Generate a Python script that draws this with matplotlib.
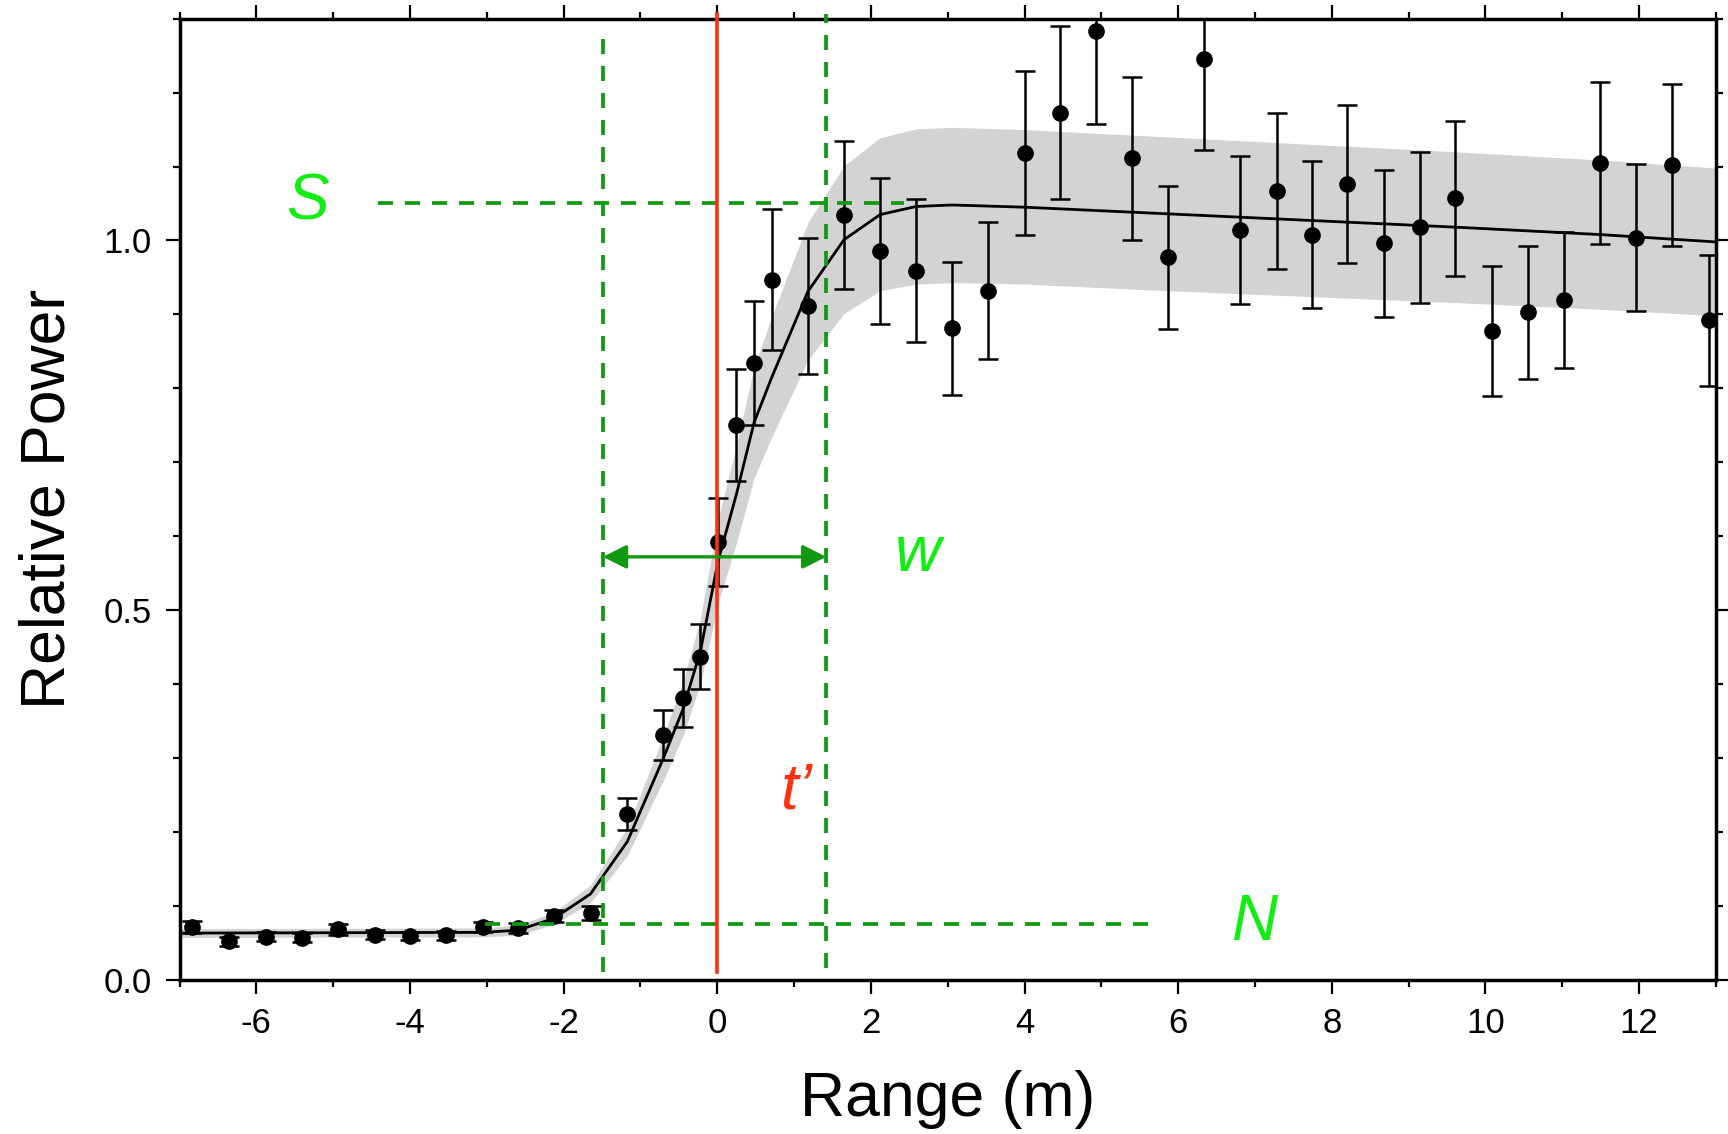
import matplotlib
matplotlib.use("Agg")
import matplotlib.pyplot as plt
from matplotlib.ticker import MultipleLocator

plt.rcParams['font.family'] = ['Liberation Sans', 'DejaVu Sans']
plt.rcParams['axes.unicode_minus'] = False

# measured points (range in m, relative power, 1-sigma error)
range_m = [-6.84, -6.35, -5.875, -5.41, -4.94, -4.46, -4.0, -3.525, -3.05, -2.59,
           -2.125, -1.65, -1.17, -0.70, -0.45, -0.22, 0.01, 0.25, 0.48, 0.71,
           1.18, 1.65, 2.12, 2.59, 3.06, 3.53, 4.00, 4.46, 4.93, 5.40,
           5.87, 6.34, 6.81, 7.28, 7.74, 8.20, 8.68, 9.15, 9.61, 10.08,
           10.55, 11.02, 11.49, 11.96, 12.43, 12.91]
power = [0.071, 0.052, 0.058, 0.057, 0.068, 0.061, 0.059, 0.060, 0.071, 0.070,
         0.086, 0.090, 0.224, 0.331, 0.381, 0.437, 0.592, 0.750, 0.834, 0.947,
         0.911, 1.034, 0.986, 0.959, 0.881, 0.932, 1.118, 1.173, 1.284, 1.111,
         0.977, 1.246, 1.014, 1.067, 1.008, 1.076, 0.996, 1.018, 1.057, 0.878,
         0.903, 0.919, 1.105, 1.004, 1.102, 0.892]
power_err = [0.008, 0.006, 0.006, 0.006, 0.007, 0.006, 0.006, 0.006, 0.007, 0.007,
             0.008, 0.009, 0.022, 0.034, 0.039, 0.044, 0.060, 0.076, 0.084, 0.095,
             0.092, 0.100, 0.099, 0.097, 0.090, 0.093, 0.111, 0.117, 0.127, 0.110,
             0.097, 0.123, 0.100, 0.106, 0.100, 0.107, 0.099, 0.102, 0.105, 0.088,
             0.090, 0.092, 0.110, 0.100, 0.110, 0.089]

# fitted model and its uncertainty band
model_range = [-7.0, -3.05, -2.59, -2.125, -1.65, -1.17, -0.70, -0.45, -0.22, 0.01,
               0.25, 0.48, 0.71, 1.18, 1.65, 2.12, 2.59, 3.06, 4.0, 5.87,
               7.74, 9.61, 11.49, 13.0]
model_power = [0.063, 0.064, 0.067, 0.083, 0.116, 0.187, 0.300, 0.365, 0.444, 0.566,
               0.657, 0.754, 0.815, 0.931, 1.001, 1.035, 1.046, 1.048, 1.045, 1.036,
               1.027, 1.018, 1.008, 0.998]
band_high = [0.069, 0.070, 0.074, 0.091, 0.128, 0.206, 0.330, 0.402, 0.488, 0.623,
             0.723, 0.829, 0.897, 1.024, 1.101, 1.139, 1.151, 1.153, 1.150, 1.140,
             1.130, 1.120, 1.109, 1.098]
band_low = [0.057, 0.058, 0.060, 0.075, 0.104, 0.168, 0.270, 0.329, 0.400, 0.509,
            0.591, 0.679, 0.734, 0.838, 0.901, 0.932, 0.941, 0.943, 0.941, 0.932,
            0.924, 0.916, 0.907, 0.898]

# annotation values
t_prime = 0.0
w_left, w_right = -1.49, 1.42
s_level = 1.051
n_level = 0.0752
w_level = 0.572

dash_green = '#119911'
text_green = '#11ee11'
red = '#ff3010'

fig = plt.figure(figsize=(17.28, 11.34), dpi=100)
ax = fig.add_axes([0.1039, 0.1361, 0.8891, 0.8474])

ax.fill_between(model_range, band_low, band_high, color='#d3d3d3', lw=0, zorder=1)
ax.plot(model_range, model_power, color='black', lw=2.0, zorder=3)
ax.errorbar(range_m, power, yerr=power_err, fmt='o', color='black', ms=11,
            elinewidth=1.8, capsize=7, capthick=1.8, zorder=4)

# guide lines
dash = (0, (4.0, 3.2))
gw = 2.7
ax.plot([w_left, w_left], [0.011, 1.288], color=dash_green, lw=gw, ls=dash, zorder=5)
ax.plot([w_right, w_right], [0.016, 1.307], color=dash_green, lw=gw, ls=dash,
        zorder=5, clip_on=False)
ax.plot([-4.42, 2.43], [s_level, s_level], color=dash_green, lw=gw, ls=dash, zorder=5)
ax.plot([-3.03, 5.67], [n_level, n_level], color=dash_green, lw=gw, ls=dash, zorder=5)
ax.plot([t_prime, t_prime], [0.01, 1.307], color=red, lw=2.6, zorder=6, clip_on=False)

ax.annotate('', xy=(w_left, w_level), xytext=(w_right, w_level),
            arrowprops=dict(arrowstyle='<|-|>', color=dash_green, lw=2.4,
                            mutation_scale=36, shrinkA=0, shrinkB=0), zorder=6)

lab = dict(fontsize=46, style='italic', ha='center', va='center')
ax.text(-5.34, s_level, 'S', color=text_green, **lab)
ax.text(2.61, 0.576, 'w', color=text_green, **lab)
ax.text(1.02, 0.255, 't\u2019', color=red, **lab)
ax.text(6.99, 0.076, 'N', color=text_green, **lab)

ax.set_xlim(-7, 13)
ax.set_ylim(0, 1.3)
ax.xaxis.set_major_locator(MultipleLocator(2))
ax.xaxis.set_minor_locator(MultipleLocator(1))
ax.yaxis.set_major_locator(MultipleLocator(0.5))
ax.yaxis.set_minor_locator(MultipleLocator(0.1))
ax.yaxis.set_major_formatter(lambda v, p: f'{v:.1f}')
ax.tick_params(which='both', direction='out', top=True, right=True,
               width=1.6, labelsize=25, pad=10)
ax.tick_params(which='major', length=10)
ax.tick_params(which='minor', length=5)
for sp in ax.spines.values():
    sp.set_linewidth(2.5)

ax.set_xlabel('Range (m)', fontsize=45, labelpad=21)
ax.set_ylabel('Relative Power', fontsize=45, labelpad=19)

fig.savefig('out.png', dpi=100)
